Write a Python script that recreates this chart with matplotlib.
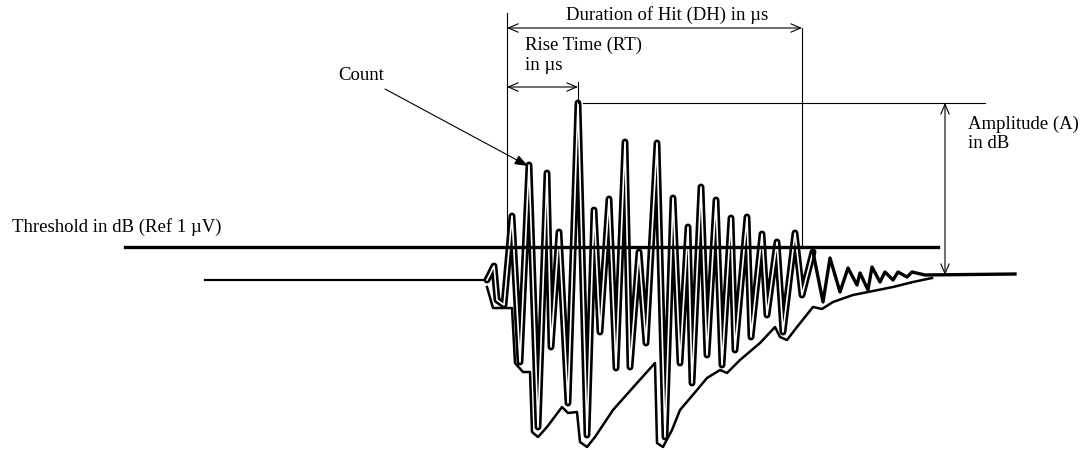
import matplotlib.pyplot as plt

# signal trace (pixel-like coordinates, y grows downward)
base_x = [205, 487]
base_y = [280, 280]

burst_x = [487, 494, 497, 504, 512, 520, 529, 538, 547, 551, 559, 568, 578, 587,
           594, 600, 609, 616, 625, 630, 639, 646, 657, 665, 673, 680, 688, 692,
           701, 707, 716, 722, 731, 735, 747, 751, 762, 767, 777, 783, 795, 802, 813]
burst_y = [280, 266, 300, 305, 216, 362, 165, 427, 173, 347, 232, 403, 103, 435,
           210, 332, 199, 368, 142, 367, 252, 343, 143, 437, 198, 363, 227, 383,
           187, 355, 200, 365, 218, 350, 217, 337, 234, 315, 242, 332, 233, 295, 252]

tail_x = [813, 823, 830, 840, 848, 857, 860, 868, 872, 880, 885, 893, 898, 907, 912, 925, 1015]
tail_y = [252, 302, 258, 292, 268, 285, 273, 290, 267, 282, 272, 280, 272, 277, 272, 275, 274]

env_x = [487, 493, 512, 515, 523, 530, 532, 538, 547, 562, 568, 577, 580, 587, 595,
         613, 637, 655, 657, 663, 672, 680, 697, 707, 720, 727, 740, 760, 775, 780,
         787, 797, 813, 822, 833, 853, 893, 913, 932]
env_y = [287, 308, 308, 363, 372, 372, 432, 437, 427, 407, 413, 412, 442, 447, 437,
         410, 383, 363, 443, 447, 430, 410, 390, 378, 370, 373, 360, 343, 327, 337,
         340, 327, 307, 309, 302, 295, 287, 282, 278]

threshold_y = 247
hit_start, hit_end = 507, 802
peak_x, peak_y = 578, 103
amp_x = 945
rest_y = 275

fig = plt.figure(figsize=(10.82, 4.5), dpi=100)
ax = fig.add_axes([0, 0, 1, 1])
ax.set_xlim(0, 1082)
ax.set_ylim(450, 0)
ax.axis('off')

# waveform
ax.plot(base_x, base_y, color='black', lw=1.6)
ax.plot(burst_x, burst_y, color='black', lw=5.0, solid_joinstyle='round', solid_capstyle='round')
ax.plot(burst_x, burst_y, color='white', lw=1.2, solid_joinstyle='round')
ax.plot(tail_x, tail_y, color='black', lw=2.4, solid_joinstyle='round')
ax.plot(env_x, env_y, color='black', lw=1.8, solid_joinstyle='round')

# threshold
ax.plot([125, 938], [threshold_y, threshold_y], color='black', lw=2.4)

# guide lines
ax.plot([hit_start, hit_start], [13, threshold_y], color='black', lw=0.8)
ax.plot([hit_end, hit_end], [28, threshold_y], color='black', lw=0.8)
ax.plot([peak_x, peak_x], [82, peak_y], color='black', lw=0.8)
ax.plot([583, 985], [peak_y, peak_y], color='black', lw=0.8)

arr = dict(arrowstyle='<->,head_length=0.7,head_width=0.3', lw=0.8, color='black',
           shrinkA=0, shrinkB=0)
ax.annotate('', xy=(hit_start, 28), xytext=(hit_end, 28), arrowprops=arr)
ax.annotate('', xy=(hit_start, 87), xytext=(peak_x, 87), arrowprops=arr)
ax.annotate('', xy=(amp_x, peak_y), xytext=(amp_x, rest_y), arrowprops=arr)

# count pointer
ax.annotate('', xy=(528, 166), xytext=(385, 89),
            arrowprops=dict(arrowstyle='-|>,head_length=0.8,head_width=0.3', lw=0.8,
                            color='black', shrinkA=0, shrinkB=0))

font = dict(family='Liberation Serif', fontsize=13.5, color='black')
ax.text(667, 15, 'Duration of Hit (DH) in µs', ha='center', va='center', **font)
ax.text(525, 45, 'Rise Time (RT)', ha='left', va='center', **font)
ax.text(525, 66, 'in µs', ha='left', va='center', **font)
ax.text(338, 75, 'Count', ha='left', va='center', **font)
ax.text(968, 124, 'Amplitude (A)', ha='left', va='center', **font)
ax.text(968, 144, 'in dB', ha='left', va='center', **font)
ax.text(12, 227, 'Threshold in dB (Ref 1 µV)', ha='left', va='center', **font)

fig.savefig('out.png', dpi=100)
